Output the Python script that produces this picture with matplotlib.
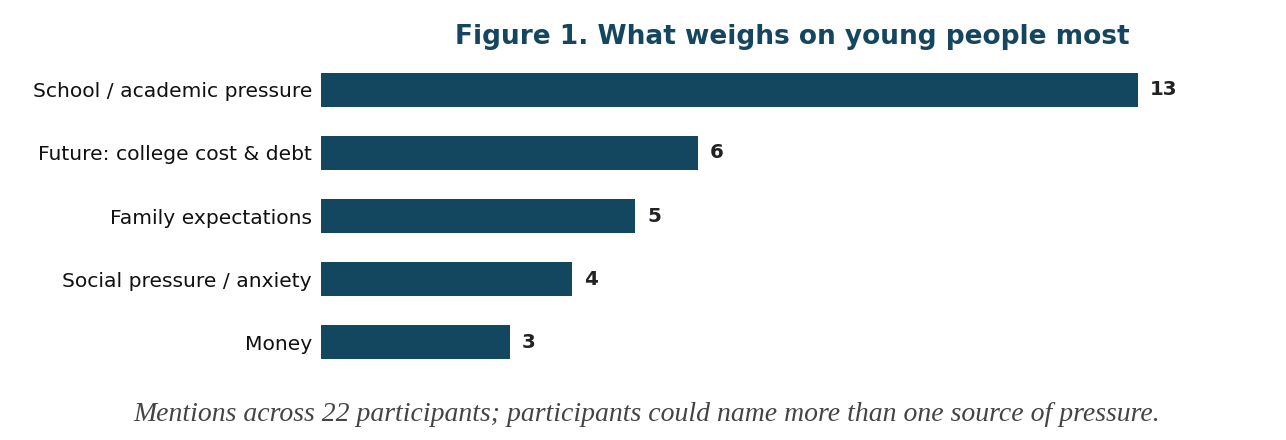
import matplotlib
matplotlib.use("Agg")
import matplotlib.pyplot as plt

categories = ["School / academic pressure", "Future: college cost & debt",
              "Family expectations", "Social pressure / anxiety", "Money"]
values = [13, 6, 5, 4, 3]
title = "Figure 1. What weighs on young people most"
caption = "Mentions across 22 participants; participants could name more than one source of pressure."

BAR = "#12475f"
W, H = 1286, 440
fig = plt.figure(figsize=(W / 100, H / 100), dpi=100)
# axes in pixel coords: left 321, right 1264, top 52, bottom 380
ax = fig.add_axes([321 / W, 1 - 380 / H, (1264 - 321) / W, (380 - 52) / H])
ypos = list(range(len(categories)))
ax.barh(ypos, values, height=0.54, color=BAR)
ax.set_xlim(0, 15)
ax.set_ylim(len(categories) - 0.4, -0.6)
ax.set_yticks(ypos)
ax.set_yticklabels(categories, fontsize=14.6, color="#111111")
ax.tick_params(axis="y", length=0, pad=6.5)
ax.set_xticks([])
for s in ax.spines.values():
    s.set_visible(False)
for y, v in zip(ypos, values):
    ax.annotate(str(v), (v, y), xytext=(8.5, 0), textcoords="offset points",
                va="center", ha="left", fontsize=14.3, fontweight="bold",
                color="#222222")
ax.set_title(title, fontsize=19, fontweight="bold", color="#154660", pad=6)
fig.text(0.503, 1 - 414 / H, caption, ha="center", va="center",
         fontsize=20, fontstyle="italic", family="Liberation Serif",
         color="#444444")
fig.savefig("out.png", dpi=100, facecolor="white")
